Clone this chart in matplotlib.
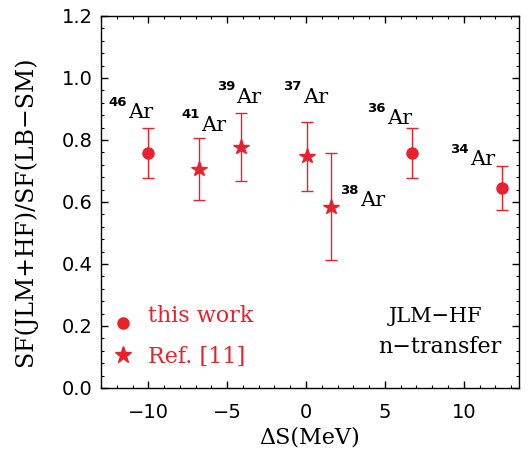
import matplotlib
matplotlib.use("Agg")
import matplotlib.pyplot as plt
from matplotlib.ticker import MultipleLocator, FormatStrFormatter

# data
this_x = [-10.0, 6.75, 12.4]
this_y = [0.759, 0.759, 0.646]
this_lo = [0.676, 0.676, 0.575]
this_hi = [0.838, 0.838, 0.716]

ref_x = [-6.77, -4.15, 0.08, 1.57]
ref_y = [0.705, 0.778, 0.748, 0.585]
ref_lo = [0.606, 0.667, 0.636, 0.413]
ref_hi = [0.807, 0.888, 0.859, 0.759]

label_mass = ["46", "41", "39", "37", "38", "36", "34"]
label_x = [-12.55, -7.89, -5.67, -1.44, 2.16, 3.85, 9.14]
label_y = [0.870, 0.830, 0.920, 0.920, 0.587, 0.851, 0.719]

red = "#e8222c"
serif = "DejaVu Serif"
sans = "DejaVu Sans"

fig = plt.figure(figsize=(5.32, 4.53), dpi=100)
ax = fig.add_axes([0.1898, 0.1435, 0.7857, 0.8212])

ax.errorbar(this_x, this_y,
            yerr=[[y - l for y, l in zip(this_y, this_lo)], [h - y for y, h in zip(this_y, this_hi)]],
            fmt='o', color=red, ms=8, elinewidth=1.0, capsize=4, capthick=1.0)
ax.errorbar(ref_x, ref_y,
            yerr=[[y - l for y, l in zip(ref_y, ref_lo)], [h - y for y, h in zip(ref_y, ref_hi)]],
            fmt='*', color=red, ms=11.5, elinewidth=1.0, capsize=4, capthick=1.0)

for m, x, y in zip(label_mass, label_x, label_y):
    ax.annotate(m, (x, y), xytext=(0, 9), textcoords='offset points',
                fontsize=9.5, family=sans, fontweight='bold', ha='left', va='baseline')
    ax.annotate("Ar", (x, y), xytext=(len(m) * 7.2, 0), textcoords='offset points',
                fontsize=15, family=serif, ha='left', va='baseline')

ax.set_xlim(-13, 13.5)
ax.set_ylim(0, 1.2)
ax.xaxis.set_major_locator(MultipleLocator(5))
ax.xaxis.set_minor_locator(MultipleLocator(1))
ax.yaxis.set_major_locator(MultipleLocator(0.2))
ax.yaxis.set_minor_locator(MultipleLocator(0.04))
ax.yaxis.set_major_formatter(FormatStrFormatter('%.1f'))
ax.tick_params(which='both', direction='in', top=True, right=True)
ax.tick_params(which='major', length=5, width=1, labelsize=14)
ax.tick_params(axis='x', which='major', pad=11)
ax.tick_params(axis='y', which='major', pad=6)
ax.tick_params(which='minor', length=2.5, width=0.8)
for lab in ax.get_xticklabels() + ax.get_yticklabels():
    lab.set_family(sans)
for s in ax.spines.values():
    s.set_linewidth(1.0)

ax.set_xlabel("ΔS(MeV)", fontsize=16, family=serif, va='center')
ax.xaxis.set_label_coords(0.5, -0.132)
ax.set_ylabel("SF(JLM+HF)/SF(LB−SM)", fontsize=17, family=serif)
ax.yaxis.set_label_coords(-0.153, 0.476)

# legend
ax.plot([-11.6], [0.210], 'o', color=red, ms=8)
ax.text(-10.01, 0.214, "this work", color=red, fontsize=16, family=serif, va='baseline')
ax.plot([-11.6], [0.106], '*', color=red, ms=12.5)
ax.text(-10.01, 0.082, "Ref. [11]", color=red, fontsize=16, family=serif, va='baseline')

ax.text(8.19, 0.214, "JLM−HF", fontsize=15, family=serif, ha='center', va='baseline')
ax.text(8.51, 0.112, "n−transfer", fontsize=16, family=serif, ha='center', va='baseline')

fig.savefig("out.png", dpi=100)
